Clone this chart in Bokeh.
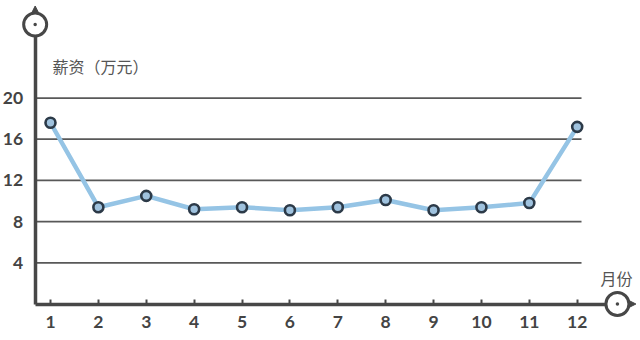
from bokeh.plotting import figure
from bokeh.models import Range1d, FixedTicker, Label
from bokeh.embed import file_html
from bokeh.resources import INLINE

# ---- data ----
months = list(range(1, 13))
month_labels = [str(m) for m in months]
salary = [17.6, 9.4, 10.5, 9.2, 9.4, 9.1, 9.4, 10.1, 9.1, 9.4, 9.8, 17.2]
y_ticks = [4, 8, 12, 16, 20]
y_tick_labels = [str(t) for t in y_ticks]
y_title = "薪资（万元）"
x_title = "月份"

# ---- layout ----
W, H = 640, 340
X0, X1 = -0.044, 13.322
Y0, Y1 = -3.544, 29.47
PXX = W / (X1 - X0)
PXY = H / (Y1 - Y0)
AX_X = 0.68          # where the vertical axis sits
AX_Y = 0.0           # where the horizontal axis sits
GRID_END = 12.09
Y_AXIS_TOP = 26.0
X_AXIS_END = 12.59
TOP_CIRCLE_Y = 27.14
RIGHT_CIRCLE_X = 12.84

AXIS_COLOR = "#474747"
GRID_COLOR = "#585858"
TEXT_COLOR = "#444444"
LINE_COLOR = "#95c4e5"
MARK_FILL = "#9fc2de"
MARK_LINE = "#2c3a48"
FONT = "Lato"

p = figure(width=W, height=H, x_range=Range1d(X0, X1), y_range=Range1d(Y0, Y1),
           output_backend="svg", toolbar_location=None, min_border=0)
p.min_border_left = 0
p.min_border_right = 0
p.min_border_top = 0
p.min_border_bottom = 0
p.outline_line_color = None
p.background_fill_color = "white"
p.border_fill_color = "white"
p.xgrid.visible = False
p.ygrid.visible = False

# horizontal grid lines
p.segment(x0=[AX_X] * len(y_ticks), x1=[GRID_END] * len(y_ticks), y0=y_ticks, y1=y_ticks,
          line_color=GRID_COLOR, line_width=1.8)

# axes
ya = p.yaxis[0]
ya.fixed_location = AX_X
ya.ticker = FixedTicker(ticks=y_ticks)
ya.major_label_overrides = {t: l for t, l in zip(y_ticks, y_tick_labels)}
ya.bounds = (AX_Y, Y_AXIS_TOP)
ya.axis_line_color = AXIS_COLOR
ya.axis_line_width = 3.5
ya.major_tick_line_color = None
ya.minor_tick_line_color = None
ya.major_label_standoff = 6
ya.major_label_text_font = FONT
ya.major_label_text_font_size = "17.5px"
ya.major_label_text_color = TEXT_COLOR
ya.major_label_text_font_style = "bold"

xa = p.xaxis[0]
xa.fixed_location = AX_Y
xa.ticker = FixedTicker(ticks=months)
xa.major_label_overrides = {m: l for m, l in zip(months, month_labels)}
xa.bounds = (AX_X, X_AXIS_END)
xa.axis_line_color = AXIS_COLOR
xa.axis_line_width = 3.5
xa.major_tick_in = 5
xa.major_tick_out = 0
xa.major_tick_line_color = AXIS_COLOR
xa.major_tick_line_width = 2
xa.minor_tick_line_color = None
xa.major_label_standoff = 12
xa.major_label_text_font = FONT
xa.major_label_text_font_size = "17.5px"
xa.major_label_text_color = TEXT_COLOR
xa.major_label_text_font_style = "bold"

# data line + markers
p.line(months, salary, line_color=LINE_COLOR, line_width=4.5)
p.scatter(months, salary, size=10, fill_color=MARK_FILL, line_color=MARK_LINE, line_width=2.6)

# decorative axis-end circles with pointers
R = 11.5
def dx(px):
    return px / PXX
def dy(px):
    return px / PXY

# top circle pointer (upwards)
p.patch([AX_X - dx(4.5), AX_X + dx(4.5), AX_X],
        [TOP_CIRCLE_Y + dy(R - 2), TOP_CIRCLE_Y + dy(R - 2), TOP_CIRCLE_Y + dy(R + 7)],
        fill_color=AXIS_COLOR, line_color=AXIS_COLOR, line_width=1)
# right circle pointer (rightwards)
p.patch([RIGHT_CIRCLE_X + dx(R - 2), RIGHT_CIRCLE_X + dx(R - 2), RIGHT_CIRCLE_X + dx(R + 7)],
        [AX_Y - dy(4.5), AX_Y + dy(4.5), AX_Y],
        fill_color=AXIS_COLOR, line_color=AXIS_COLOR, line_width=1)

p.scatter([AX_X, RIGHT_CIRCLE_X], [TOP_CIRCLE_Y, AX_Y], size=2 * R, fill_color="white",
          line_color=AXIS_COLOR, line_width=3)
p.scatter([AX_X, RIGHT_CIRCLE_X], [TOP_CIRCLE_Y, AX_Y], size=3.5, fill_color=AXIS_COLOR,
          line_color=None)

# titles
p.add_layout(Label(x=1.04, y=23.15, text=y_title, text_font="Noto Sans CJK SC",
                   text_font_size="16px", text_color="#555555", text_baseline="middle",
                   text_align="left"))
p.add_layout(Label(x=12.82, y=2.48, text=x_title, text_font="Noto Sans CJK SC",
                   text_font_size="16px", text_color="#555555", text_baseline="middle",
                   text_align="center"))

open("out.html", "w").write(file_html(p, INLINE))
